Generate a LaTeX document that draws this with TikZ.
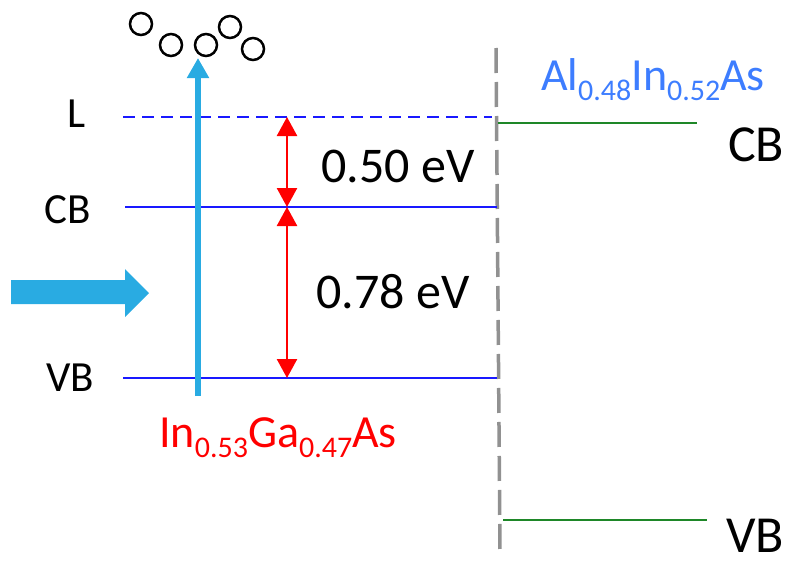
\documentclass[tikz,border=0pt]{standalone}
\usepackage{fontspec}
\setmainfont{Carlito}
\usetikzlibrary{arrows.meta, positioning}
\definecolor{beamcyan}{RGB}{41,171,226}
\definecolor{bandblue}{RGB}{25,25,255}
\definecolor{bandgreen}{RGB}{30,135,40}
\definecolor{alloyblue}{RGB}{61,125,255}
\definecolor{gapred}{RGB}{255,0,0}
\definecolor{splitgray}{RGB}{145,145,145}
\newcommand{\lowsub}[1]{\raisebox{-10pt}{\fontsize{30}{36}\selectfont #1}}

\begin{document}
\begin{tikzpicture}[
    x=1pt, y=-1pt,
    every node/.style={inner sep=0pt, font=\fontsize{43}{50}\selectfont},
    band/.style={bandblue, line width=2.5pt},
    barrier/.style={bandgreen, line width=2.5pt},
    gap/.style={gapred, line width=2.5pt, {Triangle[width=20pt,length=19pt]}-{Triangle[width=20pt,length=19pt]}},
    electron/.style={circle, draw, line width=2.5pt, minimum size=22pt},
    gaptext/.style={font=\fontsize{50}{60}\selectfont},
    sidetext/.style={font=\fontsize{52}{60}\selectfont},
    alloytext/.style={font=\fontsize{46}{55}\selectfont, anchor=base}
]
\useasboundingbox (0,0) rectangle (793,565);

\coordinate (Lw) at (123,117); \coordinate (Le) at (492,117);
\coordinate (CBw) at (125,207); \coordinate (CBe) at (497,207);
\coordinate (VBw) at (123,378); \coordinate (VBe) at (497,378);
\coordinate (gL) at (287,117); \coordinate (gC) at (287,207); \coordinate (gV) at (287,378);

\draw[splitgray, line width=3.5pt, dash pattern=on 25pt off 9pt] (496,48) coordinate (splittop) -- (500,552) coordinate (splitbot);

\draw[band, dash pattern=on 12pt off 7pt] (Lw) -- (Le);
\draw[band] (CBw) -- (CBe);
\draw[band] (VBw) -- (VBe);

\node (lblL) at (77,114) {L};
\node (lblCB) at (68,210) {CB};
\node (lblVB) at (70,378) {VB};

\draw[gap] (gL) -- (gC);
\draw[gap] (gC) -- (gV);
\node[gaptext] (eL) at (398,166) {0.50 eV};
\node[gaptext] (eG) at (393,292) {0.78 eV};

\fill[beamcyan] (11,280) -- (125,280) -- (125,269) -- (149,293) -- (125,317) -- (125,304) -- (11,304) -- cycle;
\draw[beamcyan, line width=6pt, -{Triangle[width=21pt,length=20pt]}] (198,396) coordinate (beamfoot) -- (198,58) coordinate (beamtop);

\node[electron] (e1) at (141,24) {};
\node[electron] (e2) at (171,45) {};
\node[electron] (e3) at (206,45) {};
\node[electron] (e4) at (230,27) {};
\node[electron] (e5) at (253,49) {};

\node[alloytext, gapred] (well) at (278,447) {In\lowsub{0.53}Ga\lowsub{0.47}As};
\node[alloytext, alloyblue] (barr) at (653,90) {Al\lowsub{0.48}In\lowsub{0.52}As};

\coordinate (bCBw) at (498,123); \coordinate (bCBe) at (697,123);
\coordinate (bVBw) at (503,520); \coordinate (bVBe) at (707,520);
\draw[barrier] (bCBw) -- (bCBe);
\draw[barrier] (bVBw) -- (bVBe);
\node[sidetext] (rCB) at (756,145) {CB};
\node[sidetext] (rVB) at (755,536) {VB};
\end{tikzpicture}
\end{document}
